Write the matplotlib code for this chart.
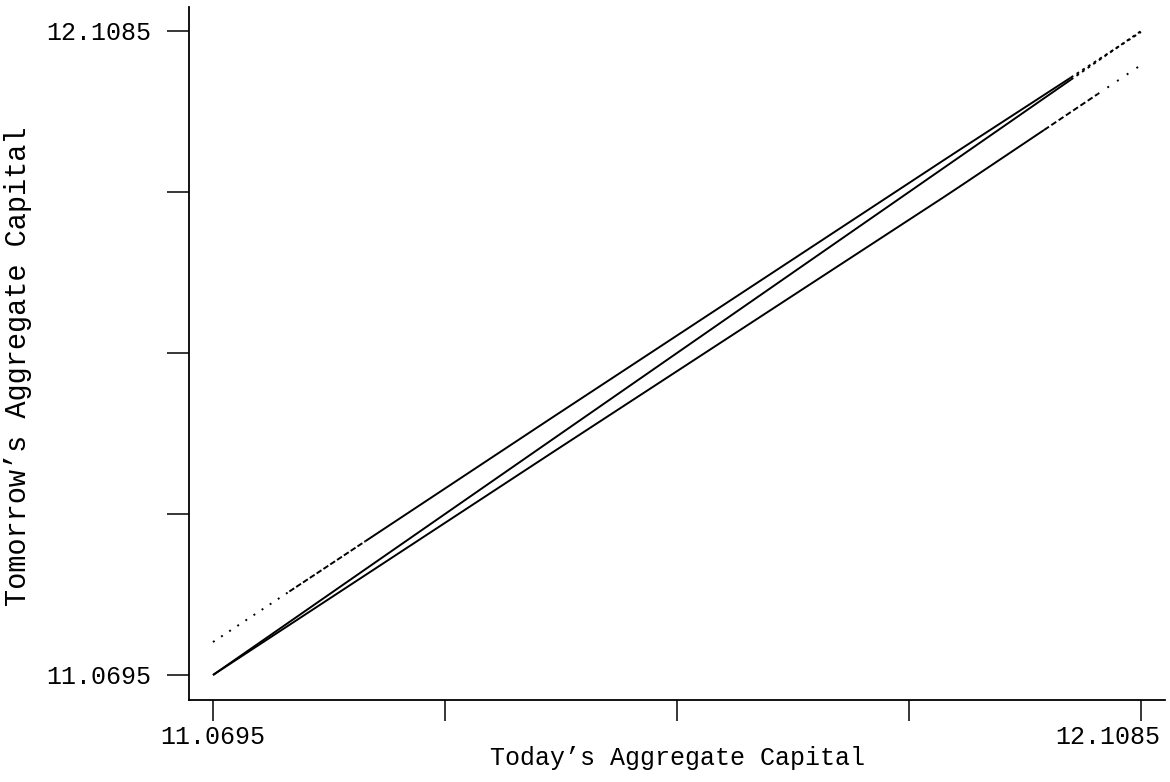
import numpy as np
import matplotlib
matplotlib.use("Agg")
import matplotlib.pyplot as plt
import matplotlib.transforms as mtransforms

# --- data ---
x_pts = [11.0695, 11.4468, 11.8947, 12.1085]
upper_y = [11.1227, 11.4825, 11.9068, 12.1069]
middle_y = [11.0695, 11.4468, 11.8947, 12.1085]
lower_y = [11.0695, 11.4260, 11.8471, 12.0536]

tick_min, tick_max = 11.0695, 12.1085
tick_labels = ["11.0695", "", "", "", "12.1085"]

# segments: (x_start, x_end, linestyle)
upper_segs = [(11.0695, 11.155, (0, (1, 4))), (11.155, 11.24, (0, (3, 1.2))),
              (11.24, 12.03, "-"), (12.03, 12.1085, (0, (1.5, 2)))]
middle_segs = [(11.0695, 12.03, "-"), (12.03, 12.1085, (0, (1.5, 2)))]
lower_segs = [(11.0695, 12.0, "-"), (12.0, 12.06, (0, (3, 1.5))),
              (12.06, 12.1085, (0, (1, 5)))]

fig = plt.figure(figsize=(11.7, 7.82), dpi=100)
ax = fig.add_axes([189 / 1170, 1 - 700 / 782, (1165 - 189) / 1170, (700 - 7) / 782])

font = ["Liberation Mono", "DejaVu Sans Mono"]

def draw(ys, segs):
    for x0, x1, ls in segs:
        xs = np.linspace(x0, x1, 50)
        ax.plot(xs, np.interp(xs, x_pts, ys), color="black", lw=1.4, linestyle=ls,
                solid_capstyle="butt")

draw(upper_y, upper_segs)
draw(middle_y, middle_segs)
draw(lower_y, lower_segs)

span = tick_max - tick_min
ax.set_xlim(tick_min - 24 / 928 * span, tick_max + 24 / 928 * span)
ax.set_ylim(tick_min - 25 / 644 * span, tick_max + 24 / 644 * span)

ticks = np.linspace(tick_min, tick_max, 5)
ax.set_xticks(ticks)
ax.set_xticklabels(tick_labels, fontfamily=font, fontsize=18)
ax.set_yticks(ticks)
ax.set_yticklabels(tick_labels, fontfamily=font, fontsize=18)

for s in ["top", "right"]:
    ax.spines[s].set_visible(False)
for s in ["left", "bottom"]:
    ax.spines[s].set_linewidth(1.3)

ax.tick_params(axis="x", direction="out", length=15, width=1.1, pad=3)
ax.tick_params(axis="y", direction="out", length=16, width=1.1, pad=11)

# shift last x tick label left so it stays inside the figure
last = ax.get_xticklabels()[-1]
last.set_transform(last.get_transform() +
                   mtransforms.ScaledTranslation(-33 / 100, 0, fig.dpi_scale_trans))

ax.set_xlabel("Today\u2019s Aggregate Capital", fontfamily=font, fontsize=18, labelpad=-2)
fig.text(18 / 1170, 1 - 366 / 782, "Tomorrow\u2019s Aggregate Capital", rotation=90,
         ha="center", va="center", fontfamily=font, fontsize=20.6)

fig.savefig("out.png", dpi=100)
